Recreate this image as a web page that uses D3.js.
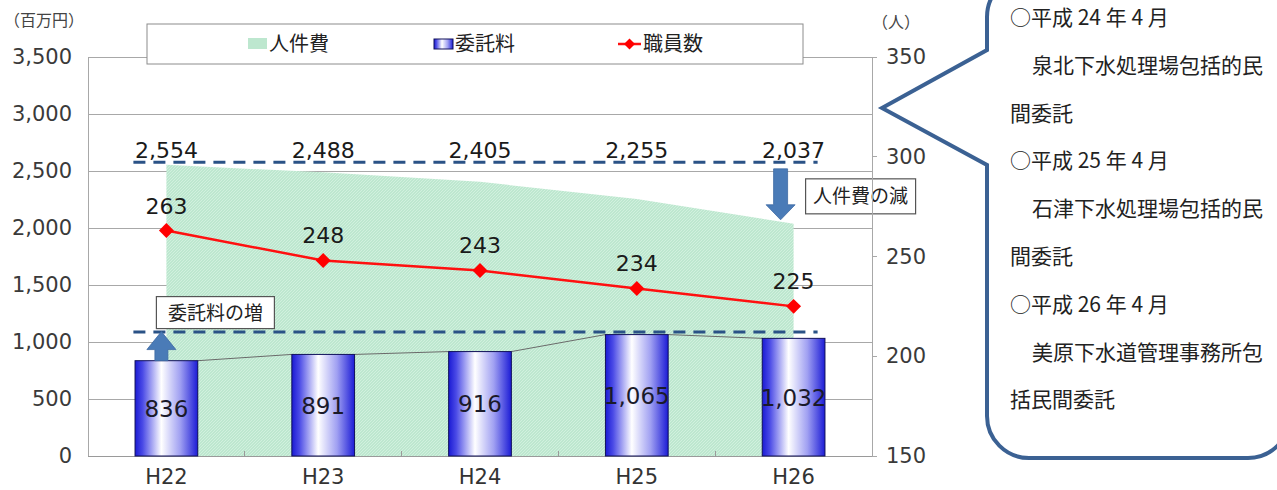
<!DOCTYPE html>
<html lang="ja">
<head>
<meta charset="utf-8">
<script src="https://cdn.jsdelivr.net/npm/d3@7"></script>
<style>
  html, body { margin: 0; padding: 0; background: #ffffff; }
  svg { display: block; }
  .num { font-family: "DejaVu Sans", sans-serif; }
  .jp { font-family: "Noto Sans CJK JP", "Noto Sans", sans-serif; }
</style>
</head>
<body>
<svg id="chart" width="1277" height="490"></svg>
<script>
// 年度ごとの人件費・委託料（百万円）と職員数（人）
const categories = ["H22", "H23", "H24", "H25", "H26"];
const personnelCost = [2554, 2488, 2405, 2255, 2037];   // 人件費
const outsourcingCost = [836, 891, 916, 1065, 1032];    // 委託料
const staffCount = [263, 248, 243, 234, 225];           // 職員数
const leftTicks = [0, 500, 1000, 1500, 2000, 2500, 3000, 3500];
const rightTicks = [150, 200, 250, 300, 350];
const legendLabels = ["人件費", "委託料", "職員数"];
const noteLines = [
  { text: "○平成 24 年 4 月", indent: 0 },
  { text: "泉北下水処理場包括的民", indent: 1 },
  { text: "間委託", indent: 0 },
  { text: "○平成 25 年 4 月", indent: 0 },
  { text: "石津下水処理場包括的民", indent: 1 },
  { text: "間委託", indent: 0 },
  { text: "○平成 26 年 4 月", indent: 0 },
  { text: "美原下水道管理事務所包", indent: 1 },
  { text: "括民間委託", indent: 0 }
];

const svg = d3.select("#chart");
const fmt = d3.format(",");

const plot = { left: 88, right: 872, top: 57, bottom: 456 };
const x = d3.scaleBand().domain(categories).range([plot.left, plot.right]).paddingInner(0).paddingOuter(0);
const yL = d3.scaleLinear().domain([0, 3500]).range([plot.bottom, plot.top]);
const yR = d3.scaleLinear().domain([150, 350]).range([plot.bottom, plot.top]);
const cx = c => x(c) + x.bandwidth() / 2;
const barW = x.bandwidth() * 0.4;

const defs = svg.append("defs");
// hatched mint fill for the personnel cost area
const pat = defs.append("pattern").attr("id", "hatch").attr("patternUnits", "userSpaceOnUse")
  .attr("width", 3).attr("height", 3);
pat.append("rect").attr("width", 3).attr("height", 3).attr("fill", "#bde7cf");
pat.append("path").attr("d", "M0,3 L3,0").attr("stroke", "#d4f0e0").attr("stroke-width", 0.9);
// blue cylinder-like gradient for bars
const grad = defs.append("linearGradient").attr("id", "barGrad").attr("x1", "0").attr("x2", "1").attr("y1", "0").attr("y2", "0");
[[0, "#1a1ad4"], [0.12, "#4a4ae6"], [0.42, "#ffffff"], [0.72, "#a0a0f2"], [1, "#1c1cd6"]]
  .forEach(([o, c]) => grad.append("stop").attr("offset", o).attr("stop-color", c));

// horizontal gridlines
svg.append("g").selectAll("line").data(leftTicks).join("line")
  .attr("x1", plot.left).attr("x2", plot.right)
  .attr("y1", d => yL(d)).attr("y2", d => yL(d))
  .attr("stroke", "#a8a8a8").attr("stroke-width", 1).attr("shape-rendering", "crispEdges");

// left axis frame line
svg.append("line").attr("x1", plot.left).attr("x2", plot.left).attr("y1", plot.top).attr("y2", plot.bottom)
  .attr("stroke", "#a8a8a8").attr("shape-rendering", "crispEdges");

// personnel cost area
const area = d3.area().x((d, i) => cx(categories[i])).y0(yL(0)).y1(d => yL(d));
svg.append("path").datum(personnelCost).attr("d", area).attr("fill", "url(#hatch)");

// x axis
const xAxis = svg.append("g").attr("transform", `translate(0,${plot.bottom})`);
xAxis.append("line").attr("x1", plot.left).attr("x2", plot.right).attr("stroke", "#9a9a9a").attr("shape-rendering", "crispEdges");
xAxis.selectAll("line.tk").data(categories.slice(1)).join("line").attr("class", "tk")
  .attr("x1", d => x(d)).attr("x2", d => x(d)).attr("y1", 0).attr("y2", -5)
  .attr("stroke", "#9a9a9a").attr("shape-rendering", "crispEdges");
xAxis.selectAll("text").data(categories).join("text")
  .attr("class", "num").attr("x", d => cx(d)).attr("y", 28)
  .attr("text-anchor", "middle").attr("font-size", 21).attr("fill", "#333").text(d => d);

// left axis labels
svg.append("g").selectAll("text").data(leftTicks).join("text")
  .attr("class", "num").attr("x", 72).attr("y", d => yL(d) + 7)
  .attr("text-anchor", "end").attr("font-size", 21).attr("fill", "#3a3a3a").text(d => fmt(d));

// series lines connecting bar tops
const pairs = d3.pairs(outsourcingCost.map((v, i) => ({ c: categories[i], v })));
svg.append("g").selectAll("line").data(pairs).join("line")
  .attr("x1", d => cx(d[0].c) + barW / 2).attr("y1", d => yL(d[0].v))
  .attr("x2", d => cx(d[1].c) - barW / 2).attr("y2", d => yL(d[1].v))
  .attr("stroke", "#6a6a6a").attr("stroke-width", 1);

// outsourcing bars
svg.append("g").selectAll("rect").data(outsourcingCost).join("rect")
  .attr("x", (d, i) => cx(categories[i]) - barW / 2).attr("width", barW)
  .attr("y", d => yL(d)).attr("height", d => yL(0) - yL(d))
  .attr("fill", "url(#barGrad)").attr("stroke", "#10105a").attr("stroke-width", 1);

// bar value labels
svg.append("g").selectAll("text").data(outsourcingCost).join("text")
  .attr("class", "num").attr("x", (d, i) => cx(categories[i]))
  .attr("y", d => (yL(d) + yL(0)) / 2 + 8.5)
  .attr("text-anchor", "middle").attr("font-size", 23).attr("fill", "#1a1a2a")
  .text(d => fmt(d));

// reference dashed lines at the highest personnel cost and highest outsourcing cost
const refLevels = [d3.max(personnelCost), d3.max(outsourcingCost)];
svg.append("g").selectAll("line").data(refLevels).join("line")
  .attr("x1", cx(categories[0]) - 33).attr("x2", cx(categories[4]) + 24)
  .attr("y1", d => yL(d) - 2.5).attr("y2", d => yL(d) - 2.5)
  .attr("stroke", "#2a5286").attr("stroke-width", 3).attr("stroke-dasharray", "12,8");

// arrows
function arrow(xc, yFrom, yTo, shaftW, headW, headL) {
  const dir = yTo < yFrom ? -1 : 1;
  const yb = yTo - dir * headL;
  return `M${xc - shaftW / 2},${yFrom} L${xc - shaftW / 2},${yb} L${xc - headW / 2},${yb} L${xc},${yTo} ` +
    `L${xc + headW / 2},${yb} L${xc + shaftW / 2},${yb} L${xc + shaftW / 2},${yFrom} Z`;
}
svg.append("path")
  .attr("d", arrow(cx(categories[0]) - 5, yL(outsourcingCost[0]), yL(d3.max(outsourcingCost)) - 3, 13, 29, 18))
  .attr("fill", "#4a7bb7").attr("stroke", "#3d6aa3").attr("stroke-width", 0.8);
svg.append("path")
  .attr("d", arrow(cx(categories[4]) - 13, yL(d3.max(personnelCost)) + 4, yL(personnelCost[4]) - 4, 14, 29, 15))
  .attr("fill", "#4a7bb7").attr("stroke", "#3d6aa3").attr("stroke-width", 0.8);

// personnel cost labels
svg.append("g").selectAll("text").data(personnelCost).join("text")
  .attr("class", "num").attr("x", (d, i) => cx(categories[i])).attr("y", d => yL(d3.max(personnelCost)) - 7)
  .attr("text-anchor", "middle").attr("font-size", 22).attr("fill", "#1a1a1a").text(d => fmt(d));

// staff count line
const line = d3.line().x((d, i) => cx(categories[i])).y(d => yR(d));
svg.append("path").datum(staffCount).attr("d", line)
  .attr("fill", "none").attr("stroke", "#ff1010").attr("stroke-width", 2.5);
const diamond = d3.symbol().type(d3.symbolSquare).size(112);
svg.append("g").selectAll("path").data(staffCount).join("path")
  .attr("d", diamond)
  .attr("transform", (d, i) => `translate(${cx(categories[i])},${yR(d)}) rotate(45)`)
  .attr("fill", "#ff0000");
svg.append("g").selectAll("text").data(staffCount).join("text")
  .attr("class", "num").attr("x", (d, i) => cx(categories[i])).attr("y", d => yR(d) - 17)
  .attr("text-anchor", "middle").attr("font-size", 22).attr("fill", "#1a1a1a").text(d => d);

// annotation boxes
function noteBox(x0, y0, w, h, label) {
  const g = svg.append("g");
  g.append("rect").attr("x", x0).attr("y", y0).attr("width", w).attr("height", h)
    .attr("fill", "#ffffff").attr("stroke", "#555").attr("stroke-width", 1.2);
  g.append("text").attr("class", "jp").attr("x", x0 + w / 2).attr("y", y0 + h / 2 + 7)
    .attr("text-anchor", "middle").attr("font-size", 19).attr("fill", "#222").text(label);
}
noteBox(cx(categories[0]) - 10, yL(d3.max(outsourcingCost)) - 38, 118, 32, "委託料の増");
noteBox(cx(categories[4]) + 12, yL(d3.max(personnelCost)) + 14, 110, 35, "人件費の減");

// right axis
const rAxis = svg.append("g");
rAxis.append("line").attr("x1", plot.right).attr("x2", plot.right).attr("y1", plot.top).attr("y2", plot.bottom)
  .attr("stroke", "#a8a8a8").attr("shape-rendering", "crispEdges");
rAxis.selectAll("line.tk").data(rightTicks).join("line").attr("class", "tk")
  .attr("x1", plot.right).attr("x2", plot.right + 5).attr("y1", d => yR(d)).attr("y2", d => yR(d))
  .attr("stroke", "#a8a8a8").attr("shape-rendering", "crispEdges");
rAxis.selectAll("text").data(rightTicks).join("text")
  .attr("class", "num").attr("x", 886).attr("y", d => yR(d) + 7)
  .attr("font-size", 21).attr("fill", "#3a3a3a").text(d => d);

// unit labels
svg.append("text").attr("class", "jp").attr("x", 4).attr("y", 26).attr("font-size", 16).attr("fill", "#444").text("（百万円）");
svg.append("text").attr("class", "jp").attr("x", 872).attr("y", 28).attr("font-size", 16).attr("fill", "#444").text("（人）");

// legend
const lg = svg.append("g");
lg.append("rect").attr("x", 147).attr("y", 24).attr("width", 656).attr("height", 40)
  .attr("fill", "#ffffff").attr("stroke", "#8c8c8c").attr("stroke-width", 1);
const ly = 44;
lg.append("rect").attr("x", 248).attr("y", ly - 6).attr("width", 19).attr("height", 11).attr("fill", "#bde7cf");
lg.append("rect").attr("x", 434).attr("y", ly - 5).attr("width", 19).attr("height", 10)
  .attr("fill", "url(#barGrad)").attr("stroke", "#10105a").attr("stroke-width", 1);
lg.append("line").attr("x1", 618).attr("x2", 641).attr("y1", ly).attr("y2", ly).attr("stroke", "#ff1010").attr("stroke-width", 2.5);
lg.append("path").attr("d", d3.symbol().type(d3.symbolSquare).size(60))
  .attr("transform", `translate(629.5,${ly}) rotate(45)`).attr("fill", "#ff0000");
const legendX = [269, 455, 643];
lg.selectAll("text").data(legendLabels).join("text")
  .attr("class", "jp").attr("x", (d, i) => legendX[i]).attr("y", ly + 7)
  .attr("font-size", 20).attr("fill", "#222").text(d => d);

// callout with notes
const L = 987, T = -25, R = 1290, B = 458, r = 42;
const callout = `M${L},${T + r} L${L},50 L882,108 L${L},165 L${L},${B - r} ` +
  `A${r},${r} 0 0 0 ${L + r},${B} L${R - r},${B} A${r},${r} 0 0 0 ${R},${B - r} ` +
  `L${R},${T + r} A${r},${r} 0 0 0 ${R - r},${T} L${L + r},${T} A${r},${r} 0 0 0 ${L},${T + r} Z`;
svg.append("path").attr("d", callout).attr("fill", "#ffffff")
  .attr("stroke", "#3b6193").attr("stroke-width", 4).attr("stroke-linejoin", "miter");
svg.append("g").selectAll("text").data(noteLines).join("text")
  .attr("class", "jp").attr("x", d => 1010 + d.indent * 22).attr("y", (d, i) => 25 + i * 47.8)
  .attr("font-size", 21).attr("fill", "#222").text(d => d.text);
</script>
</body>
</html>
